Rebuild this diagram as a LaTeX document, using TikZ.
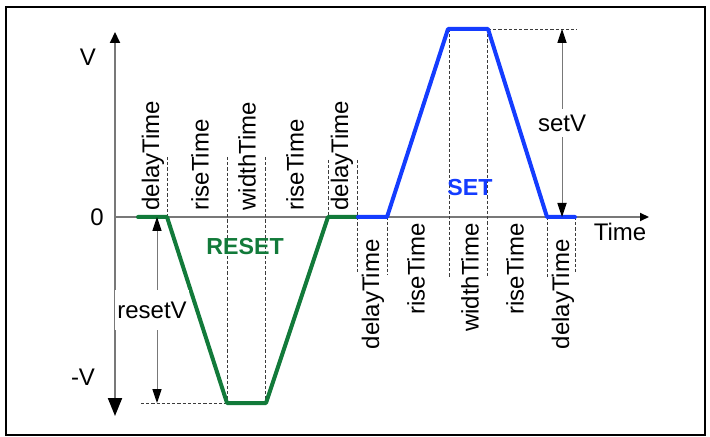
\documentclass[tikz,border=0pt]{standalone}
\usepackage{fontspec}
\setmainfont{Liberation Sans}
\usetikzlibrary{arrows.meta}
\definecolor{rgreen}{RGB}{18,122,58}
\definecolor{sblue}{RGB}{20,60,255}
\definecolor{axgray}{RGB}{120,120,120}
\definecolor{dgray}{RGB}{60,60,60}
\begin{document}
\begin{tikzpicture}[x=0.5pt,y=-0.5pt,
  lbl/.style={font=\fontsize{12}{14}\selectfont,inner sep=0pt},
  vlbl/.style={lbl,rotate=90},
  guide/.style={draw=dgray,line width=0.45pt,dash pattern=on 1.6pt off 1pt},
  axis/.style={draw=axgray,line width=1pt},
  dim/.style={draw=axgray,line width=0.5pt,{Triangle[length=7pt,width=4.6pt,color=black]}-{Triangle[length=7pt,width=4.6pt,color=black]}},
  wave/.style={line width=2pt,line cap=round,line join=round},
  bold/.style={font=\fontsize{11.6}{14}\selectfont\bfseries,inner sep=0pt}]
\useasboundingbox (0,0) rectangle (710,437);
\draw[line width=1.2pt] (6,7) rectangle (705,435);
% coordinates
\coordinate (ytop) at (115,32);
\coordinate (ybot) at (115,416);
\coordinate (o) at (115,217);
\coordinate (xend) at (649,217);
% axes
\draw[axis,-{Triangle[length=5.5pt,width=5pt,color=black]}] (o) -- (ytop);
\draw[axis,-{Triangle[length=9pt,width=7pt,color=black]}] (o) -- (ybot);
\draw[axis,-{Triangle[length=4.5pt,width=4pt,color=black]}] (o) -- (xend);
% guides
\draw[guide] (167,157) -- (167,217);
\draw[guide] (227,157) -- (227,403);
\draw[guide] (265,157) -- (265,403);
\draw[guide] (328,160) -- (328,217);
\draw[guide] (357,160) -- (357,273);
\draw[guide] (387,217) -- (387,275);
\draw[guide] (449,29) -- (449,278);
\draw[guide] (487,29) -- (487,276);
\draw[guide] (547,217) -- (547,277);
\draw[guide] (575,217) -- (575,273);
\draw[guide] (141,403) -- (227,403);
\draw[guide] (488,29) -- (577,29);
% waveforms
\coordinate (g0) at (138,217); \coordinate (g1) at (167,217);
\coordinate (g2) at (227,403); \coordinate (g3) at (266,403);
\coordinate (g4) at (328,217); \coordinate (g5) at (358,217);
\coordinate (b0) at (358,217); \coordinate (b1) at (387,217);
\coordinate (b2) at (448,29); \coordinate (b3) at (488,29);
\coordinate (b4) at (547,217); \coordinate (b5) at (575,217);
\draw[wave,rgreen] (g0) -- (g1) -- (g2) -- (g3) -- (g4) -- (g5);
\draw[wave,sblue] (b0) -- (b1) -- (b2) -- (b3) -- (b4) -- (b5);
% dimension arrows
\coordinate (s0) at (562,29); \coordinate (s1) at (562,217);
\coordinate (r0) at (157,217); \coordinate (r1) at (157,403);
\draw[dim] (s0) -- node[lbl,fill=white,inner sep=3pt] (setv) {setV} (s1);
\draw[dim] (r0) -- (r1);
\node[lbl,fill=white,inner ysep=6pt,inner xsep=1pt] (resetv) at (152,310) {resetV};
% axis labels
\node[lbl] (lv) at (88,57) {V};
\node[lbl] (l0) at (97,217) {0};
\node[lbl] (lmv) at (83,377) {-V};
\node[lbl] (ltime) at (620,232) {Time};
% pulse labels
\node[bold,text=rgreen] (reset) at (245,247) {RESET};
\node[bold,text=sblue] (set) at (470,188) {SET};
% time labels above axis
\node[vlbl,anchor=west] (a1) at (153,211) {delayTime};
\node[vlbl,anchor=west] (a2) at (200,211) {riseTime};
\node[vlbl,anchor=west] (a3) at (247,211) {widthTime};
\node[vlbl,anchor=west] (a4) at (295,211) {riseTime};
\node[vlbl,anchor=west] (a5) at (342,211) {delayTime};
% time labels below axis
\node[vlbl,anchor=east] (c1) at (373,239) {delayTime};
\node[vlbl,anchor=east] (c2) at (416,223) {riseTime};
\node[vlbl,anchor=east] (c3) at (470,223) {widthTime};
\node[vlbl,anchor=east] (c4) at (515,223) {riseTime};
\node[vlbl,anchor=east] (c5) at (563,239) {delayTime};
\end{tikzpicture}
\end{document}
